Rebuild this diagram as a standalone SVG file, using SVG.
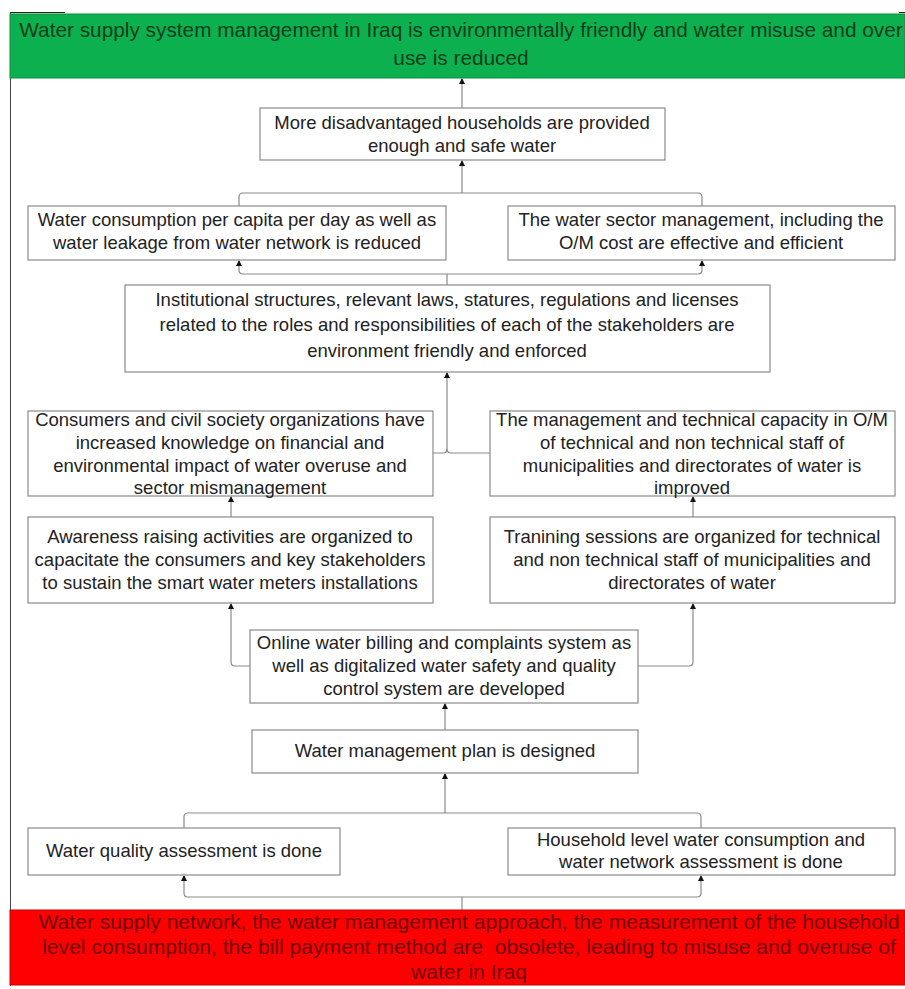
<svg xmlns="http://www.w3.org/2000/svg" width="905" height="989" viewBox="0 0 905 989">
<defs>
<marker id="ah" markerWidth="6" markerHeight="6" refX="5" refY="3" orient="auto" markerUnits="userSpaceOnUse">
<path d="M0,0 L6,3 L0,6 Z" fill="#111"/>
</marker>
<style>
.box{fill:#fff;stroke:#8a8a8a;stroke-width:1.2}
.t{font-family:"Liberation Sans",Arial,sans-serif;font-size:18.5px;fill:#222;text-anchor:middle}
.big{font-size:20.8px}
.rb{font-size:21.1px}
.g{fill:#0b3d1c}
.r{fill:#6e0606}
.c{fill:none;stroke:#8a8a8a;stroke-width:1.2}
.a{marker-end:url(#ah)}
</style>
</defs>
<rect width="905" height="989" fill="#fff"/>
<g id="frame">
<line x1="10" y1="12.5" x2="65" y2="12.5" stroke="#222" stroke-width="1"/>
<line x1="899" y1="12.5" x2="905" y2="12.5" stroke="#222" stroke-width="1"/>
<line x1="10.5" y1="12" x2="10.5" y2="986" stroke="#444" stroke-width="1"/>
</g>
<g id="connectors">
<path class="c a" d="M462,108 V79"/>
<path class="c a" d="M462,193 V161"/>
<path class="c" d="M239,206 V197 Q239,193 243,193 H698 Q702,193 702,197 V206"/>
<path class="c a" d="M447,274 H243 Q239,274 239,270 V261"/>
<path class="c a" d="M447,274 H698 Q702,274 702,270 V261"/>
<path class="c" d="M447,274 V285"/>
<path class="c a" d="M447,450 V373"/>
<path class="c" d="M433,453 H443 Q447,453 447,449 Q447,453 451,453 H490"/>
<path class="c a" d="M231,517 V497"/>
<path class="c a" d="M693,517 V497"/>
<path class="c a" d="M251,666 H235 Q231,666 231,662 V604"/>
<path class="c a" d="M638,666 H689 Q693,666 693,662 V604"/>
<path class="c a" d="M445,730 V704"/>
<path class="c a" d="M445,813 V774"/>
<path class="c" d="M184,828 V817 Q184,813 188,813 H697 Q701,813 701,817 V828"/>
<path class="c a" d="M462,897 H188 Q184,897 184,893 V876"/>
<path class="c a" d="M462,897 H697 Q701,897 701,893 V876"/>
<path class="c" d="M462,897 V910"/>
</g>
<g id="goal">
<rect x="10" y="14" width="895" height="64" fill="#0db04f" stroke="#0a8f3e" stroke-width="1"/>
<text class="t big g" x="461" y="37">Water supply system management in Iraq is environmentally friendly and water misuse and over</text>
<text class="t big g" x="461" y="65">use is reduced</text>
</g>
<g id="n1">
<rect class="box" x="260" y="108" width="405" height="52"/>
<text class="t" x="462" y="129">More disadvantaged households are provided</text>
<text class="t" x="462" y="152">enough and safe water</text>
</g>
<g id="n2">
<rect class="box" x="28" y="206" width="418" height="54"/>
<text class="t" x="237" y="226">Water consumption per capita per day as well as</text>
<text class="t" x="237" y="249">water leakage from water network is reduced</text>
</g>
<g id="n3">
<rect class="box" x="508" y="206" width="387" height="54"/>
<text class="t" x="701" y="226">The water sector management, including the</text>
<text class="t" x="701" y="249">O/M cost are effective and efficient</text>
</g>
<g id="n4">
<rect class="box" x="125" y="285" width="645" height="87"/>
<text class="t" x="447" y="306">Institutional structures, relevant laws, statures, regulations and licenses</text>
<text class="t" x="447" y="331">related to the roles and responsibilities of each of the stakeholders are</text>
<text class="t" x="447" y="357">environment friendly and enforced</text>
</g>
<g id="n5">
<rect class="box" x="28" y="411" width="405" height="85"/>
<text class="t" x="230" y="426">Consumers and civil society organizations have</text>
<text class="t" x="230" y="449">increased knowledge on financial and</text>
<text class="t" x="230" y="472">environmental impact of water overuse and</text>
<text class="t" x="230" y="494">sector mismanagement</text>
</g>
<g id="n6">
<rect class="box" x="490" y="411" width="405" height="85"/>
<text class="t" x="692" y="426">The management and technical capacity in O/M</text>
<text class="t" x="692" y="449">of technical and non technical staff of</text>
<text class="t" x="692" y="472">municipalities and directorates of water is</text>
<text class="t" x="692" y="494">improved</text>
</g>
<g id="n7">
<rect class="box" x="28" y="517" width="405" height="86"/>
<text class="t" x="230" y="543">Awareness raising activities are organized to</text>
<text class="t" x="230" y="566">capacitate the consumers and key stakeholders</text>
<text class="t" x="230" y="589">to sustain the smart water meters installations</text>
</g>
<g id="n8">
<rect class="box" x="490" y="517" width="405" height="86"/>
<text class="t" x="692" y="543">Tranining sessions are organized for technical</text>
<text class="t" x="692" y="566">and non technical staff of municipalities and</text>
<text class="t" x="692" y="589">directorates of water</text>
</g>
<g id="n9">
<rect class="box" x="250" y="630" width="388" height="73"/>
<text class="t" x="444" y="649">Online water billing and complaints system as</text>
<text class="t" x="444" y="672">well as digitalized water safety and quality</text>
<text class="t" x="444" y="695">control system are developed</text>
</g>
<g id="n10">
<rect class="box" x="252" y="730" width="386" height="43"/>
<text class="t" x="445" y="757">Water management plan is designed</text>
</g>
<g id="n11">
<rect class="box" x="28" y="828" width="312" height="47"/>
<text class="t" x="184" y="857">Water quality assessment is done</text>
</g>
<g id="n12">
<rect class="box" x="508" y="828" width="387" height="47"/>
<text class="t" x="701" y="846">Household level water consumption and</text>
<text class="t" x="701" y="868">water network assessment is done</text>
</g>
<g id="problem">
<rect x="10" y="910" width="895" height="75" fill="#fe0000" stroke="#c00000" stroke-width="1"/>
<text class="t rb r" x="469" y="929">Water supply network, the water management approach, the measurement of the household</text>
<text class="t rb r" x="469" y="954" xml:space="preserve">level consumption, the bill payment method are  obsolete, leading to misuse and overuse of</text>
<text class="t rb r" x="469" y="979">water in Iraq</text>
</g>
</svg>
